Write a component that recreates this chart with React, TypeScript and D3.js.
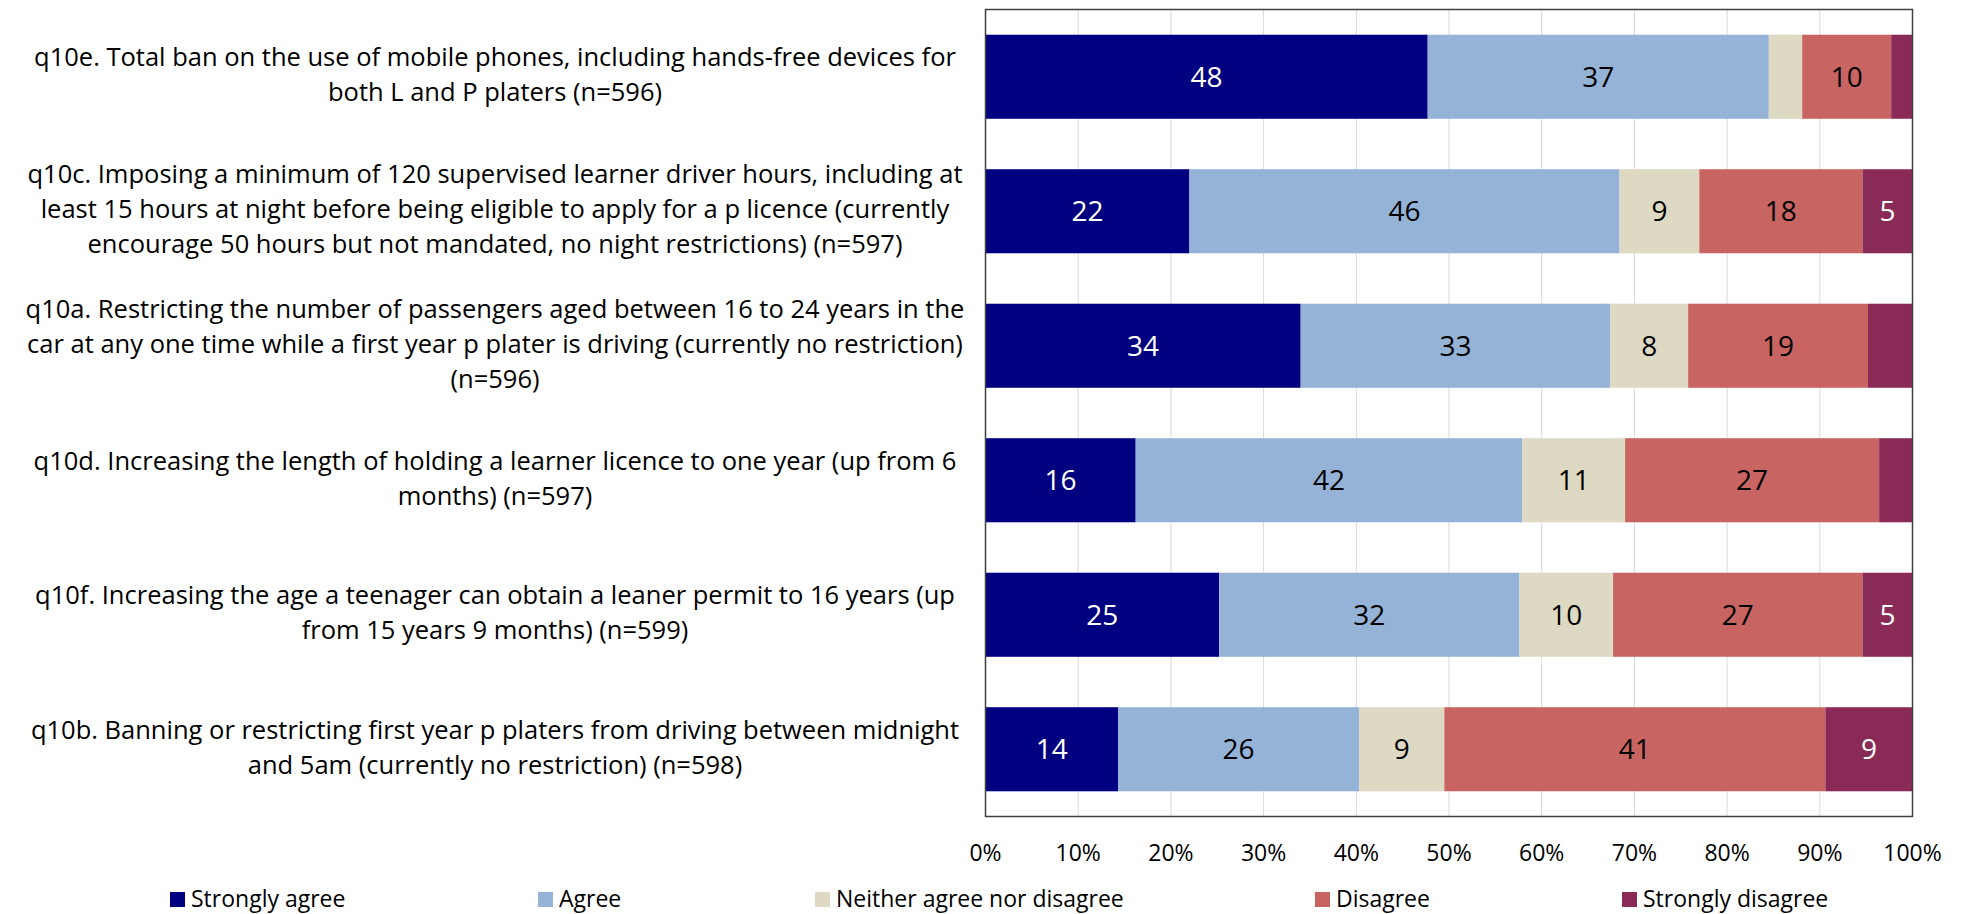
import React from "react";
import * as d3 from "d3";

const categories = ["q10e", "q10c", "q10a", "q10d", "q10f", "q10b"];
const categoryLines: string[][] = [
  ["q10e. Total ban on the use of mobile phones, including hands-free devices for", "both L and P platers (n=596)"],
  ["q10c. Imposing a minimum of 120 supervised learner driver hours, including at", "least 15 hours at night before being eligible to apply for a p licence (currently", "encourage 50 hours but not mandated, no night restrictions) (n=597)"],
  ["q10a. Restricting the number of passengers aged between 16 to 24 years in the", "car at any one time while a first year p plater is driving (currently no restriction)", "(n=596)"],
  ["q10d. Increasing the length of holding a learner licence to one year (up from 6", "months) (n=597)"],
  ["q10f. Increasing the age a teenager can obtain a leaner permit to 16 years (up", "from 15 years 9 months) (n=599)"],
  ["q10b. Banning or restricting first year p platers from driving between midnight", "and 5am (currently no restriction) (n=598)"],
];
const seriesNames = ["Strongly agree", "Agree", "Neither agree nor disagree", "Disagree", "Strongly disagree"];
const stronglyAgree = [47.7, 22.0, 34.0, 16.2, 25.2, 14.3];
const agree = [36.8, 46.4, 33.4, 41.7, 32.4, 26.0];
const neither = [3.6, 8.6, 8.4, 11.1, 10.1, 9.2];
const disagree = [9.6, 17.6, 19.4, 27.4, 26.9, 41.1];
const stronglyDisagree = [2.3, 5.4, 4.8, 3.6, 5.4, 9.4];
const tickValues = [0, 10, 20, 30, 40, 50, 60, 70, 80, 90, 100];

const colors = ["#000080", "#95B3D7", "#DDD9C3", "#C86461", "#8A2A56"];
const labelColors = ["#FFFFFF", "#000000", "#000000", "#000000", "#FFFFFF"];
const legendX = [170, 538, 815, 1315, 1622];

const FONT = "'Open Sans', 'Liberation Sans', sans-serif";

export default function App() {
  const W = 1962, H = 914;
  const plot = { left: 985.5, right: 1912.5, top: 9.5, bottom: 816.5 };
  const x = d3.scaleLinear().domain([0, 100]).range([plot.left, plot.right]);
  const y = d3.scaleBand<string>().domain(categories).range([plot.top, plot.bottom]).paddingInner(0.375).paddingOuter(0.1875);

  const rows = categories.map((c, i) => ({
    cat: c,
    vals: [stronglyAgree[i], agree[i], neither[i], disagree[i], stronglyDisagree[i]],
  }));

  const labelCenterX = 495;
  const lineGap = 35;
  const catFont = 25.5;
  const tickFont = 23;
  const dataFont = 28;
  const legendFont = 23;

  return (
    <svg width={W} height={H} style={{ position: "absolute", left: 0, top: 0 }} fontFamily={FONT}>
      <rect x={0} y={0} width={W} height={H} fill="#fff" />
      {tickValues.slice(1, -1).map((t) => (
        <line key={t} x1={x(t)} x2={x(t)} y1={plot.top} y2={plot.bottom} stroke="#D9D9D9" strokeWidth={1} />
      ))}
      {rows.map((r) => {
        let acc = 0;
        const by = y(r.cat)!;
        const bh = y.bandwidth();
        return (
          <g key={r.cat}>
            {r.vals.map((v, k) => {
              const x0 = x(acc);
              acc += v;
              const x1 = x(acc);
              return (
                <g key={k}>
                  <rect x={x0} y={by} width={x1 - x0} height={bh} fill={colors[k]} />
                  {v >= 5 && (
                    <text x={(x0 + x1) / 2} y={by + bh / 2 + 0.36 * dataFont} textAnchor="middle" fontSize={dataFont} fill={labelColors[k]}>
                      {Math.round(v)}
                    </text>
                  )}
                </g>
              );
            })}
          </g>
        );
      })}
      <rect x={plot.left} y={plot.top} width={plot.right - plot.left} height={plot.bottom - plot.top} fill="none" stroke="#404040" strokeWidth={1.5} />
      {tickValues.map((t) => (
        <text key={t} x={x(t)} y={853 + 0.36 * tickFont} textAnchor="middle" fontSize={tickFont} fill="#000">
          {t + "%"}
        </text>
      ))}
      {rows.map((r, i) => {
        const cy = y(r.cat)! + y.bandwidth() / 2;
        const lines = categoryLines[i];
        const n = lines.length;
        return (
          <text key={r.cat} textAnchor="middle" fontSize={catFont} fill="#000">
            {lines.map((ln, j) => (
              <tspan key={j} x={labelCenterX} y={cy + (j - (n - 1) / 2) * lineGap + 0.27 * catFont}>
                {ln}
              </tspan>
            ))}
          </text>
        );
      })}
      {seriesNames.map((s, k) => (
        <g key={s}>
          <rect x={legendX[k]} y={892} width={15} height={15} fill={colors[k]} />
          <text x={legendX[k] + 21} y={907} fontSize={legendFont} fill="#000">
            {s}
          </text>
        </g>
      ))}
    </svg>
  );
}
